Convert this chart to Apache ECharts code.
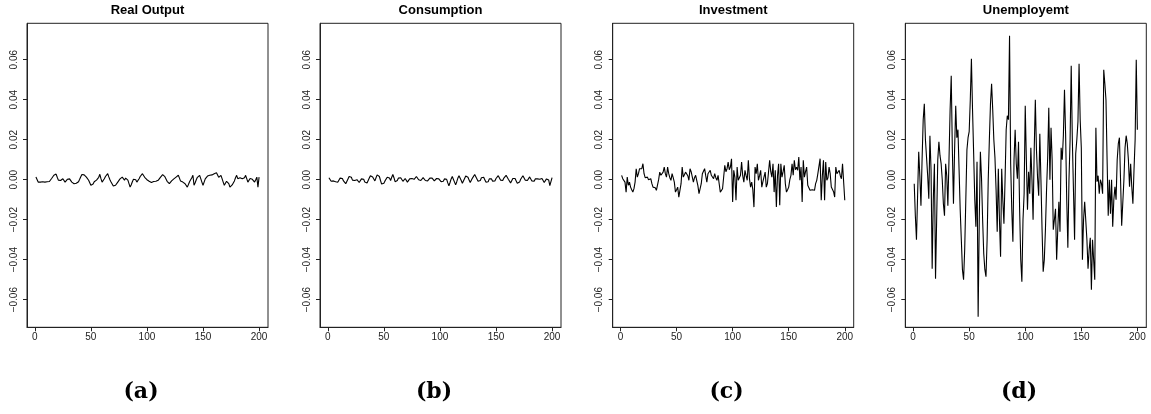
<!DOCTYPE html>
<html>
<head>
<meta charset="utf-8">
<script src="https://cdn.jsdelivr.net/npm/echarts@6/dist/echarts.min.js"></script>
<style>
  html, body { margin: 0; padding: 0; background: #fff; }
  #chart { width: 1151px; height: 414px; }
</style>
</head>
<body>
<div id="chart"></div>
<script>
// 面板标题与子图标号
var titles = ['Real Output', 'Consumption', 'Investment', 'Unemployemt'];
var subLabels = ['(a)', '(b)', '(c)', '(d)'];
// 刻度
var xTicks = [0, 50, 100, 150, 200];
var yTicks = [-0.06, -0.04, -0.02, 0, 0.02, 0.04, 0.06];

// 各序列 (t = 1..200)
var realOutput = [
  0.0013, 0.0005, -0.0012, -0.0008, -0.0012, -0.0005, -0.0010, -0.0006, -0.0012, -0.0008,
  -0.0010, -0.0004, -0.0009, -0.0002, 0.0006, 0.0015, 0.0022, 0.0030, 0.0028, 0.0012,
  -0.0002, -0.0012, -0.0004, 0.0003, 0.0005, -0.0004, -0.0012, -0.0008, 0.0002, 0.0008,
  0.0004, -0.0006, -0.0012, -0.0016, -0.0020, -0.0020, -0.0018, -0.0017, -0.0010, 0.0002,
  0.0015, 0.0026, 0.0030, 0.0024, 0.0016, 0.0013, 0.0005, -0.0003, -0.0015, -0.0028,
  -0.0037, -0.0022, -0.0010, -0.0003, -0.0002, 0.0000, 0.0012, 0.0027, 0.0005, -0.0012,
  -0.0006, 0.0005, 0.0016, 0.0026, 0.0030, 0.0014, 0.0000, -0.0012, -0.0022, -0.0032,
  -0.0037, -0.0028, -0.0020, -0.0012, -0.0004, 0.0004, 0.0010, 0.0013, 0.0004, -0.0003,
  0.0008, 0.0017, -0.0002, -0.0020, -0.0037, -0.0025, -0.0010, 0.0002, 0.0010, 0.0000,
  -0.0012, -0.0005, 0.0005, 0.0016, 0.0025, 0.0030, 0.0022, 0.0012, 0.0004, 0.0000,
  -0.0003, -0.0008, -0.0010, -0.0014, -0.0012, -0.0009, -0.0012, -0.0008, -0.0005, -0.0003,
  0.0004, 0.0012, 0.0020, 0.0025, 0.0027, 0.0015, 0.0004, -0.0008, -0.0016, -0.0020,
  -0.0012, -0.0006, -0.0003, 0.0004, 0.0009, 0.0013, 0.0018, 0.0022, 0.0008, -0.0007,
  -0.0010, -0.0012, -0.0012, -0.0020, -0.0030, -0.0037, -0.0024, -0.0010, -0.0003, 0.0010,
  0.0022, -0.0028, -0.0015, 0.0000, 0.0012, 0.0020, 0.0022, 0.0005, -0.0012, -0.0028,
  -0.0012, 0.0004, 0.0013, 0.0018, 0.0020, 0.0022, 0.0020, 0.0024, 0.0027, 0.0030,
  0.0028, 0.0035, 0.0025, 0.0012, 0.0010, 0.0022, 0.0005, -0.0012, -0.0028, -0.0018,
  -0.0008, -0.0003, -0.0020, -0.0037, -0.0032, -0.0026, -0.0020, -0.0006, 0.0010, 0.0022,
  0.0005, 0.0008, 0.0010, 0.0013, 0.0005, -0.0003, 0.0010, 0.0022, 0.0005, -0.0012,
  -0.0004, 0.0006, 0.0013, 0.0002, -0.0006, -0.0012, 0.0000, 0.0013, -0.0037, 0.0013
];

var consumption = [
  0.0010, 0.0002, -0.0008, -0.0012, -0.0006, 0.0000, -0.0010, -0.0004, -0.0012, -0.0002,
  0.0008, 0.0014, 0.0006, -0.0006, -0.0014, -0.0020, -0.0010, 0.0004, 0.0016, 0.0022,
  0.0012, -0.0002, -0.0008, -0.0004, 0.0006, 0.0000, -0.0010, -0.0014, -0.0006, 0.0004,
  0.0010, 0.0002, -0.0012, -0.0022, -0.0016, -0.0006, 0.0008, 0.0020, 0.0026, 0.0014,
  0.0004, -0.0006, 0.0010, 0.0024, 0.0030, 0.0016, -0.0004, -0.0022, -0.0030, -0.0018,
  -0.0006, 0.0004, 0.0012, 0.0020, 0.0008, -0.0004, 0.0012, 0.0026, 0.0010, -0.0010,
  -0.0016, -0.0004, 0.0008, 0.0016, 0.0010, 0.0000, -0.0008, -0.0002, 0.0006, -0.0004,
  -0.0012, -0.0006, 0.0004, 0.0012, 0.0006, -0.0004, 0.0002, 0.0010, 0.0016, 0.0008,
  0.0000, -0.0008, -0.0004, 0.0004, 0.0010, 0.0004, -0.0004, -0.0010, -0.0006, 0.0002,
  0.0008, 0.0014, 0.0008, 0.0000, -0.0006, -0.0002, 0.0006, 0.0012, 0.0004, -0.0004,
  -0.0010, -0.0018, -0.0008, 0.0004, 0.0012, 0.0002, -0.0016, -0.0030, -0.0014, 0.0004,
  0.0016, 0.0006, -0.0012, -0.0026, -0.0010, 0.0008, 0.0020, 0.0012, -0.0004, -0.0018,
  -0.0008, 0.0006, 0.0018, 0.0024, 0.0012, -0.0002, -0.0014, -0.0006, 0.0008, 0.0018,
  0.0026, 0.0016, 0.0004, -0.0008, -0.0016, -0.0004, 0.0010, 0.0020, 0.0012, 0.0000,
  -0.0012, -0.0022, -0.0010, 0.0004, 0.0012, 0.0004, -0.0008, -0.0016, -0.0006, 0.0006,
  0.0014, 0.0020, 0.0010, -0.0002, -0.0012, -0.0004, 0.0008, 0.0016, 0.0022, 0.0012,
  0.0002, -0.0008, -0.0016, -0.0006, 0.0006, 0.0014, 0.0006, -0.0006, -0.0018, -0.0026,
  -0.0012, 0.0002, 0.0012, 0.0020, 0.0010, -0.0002, -0.0010, -0.0004, 0.0006, 0.0014,
  0.0006, -0.0006, -0.0016, -0.0008, 0.0004, 0.0012, 0.0004, -0.0006, 0.0002, 0.0012,
  0.0006, -0.0004, -0.0014, -0.0006, 0.0004, 0.0010, -0.0002, -0.0030, -0.0038, 0.0010
];

var investment = [
  0.0022, 0.0005, 0.0010, -0.0012, -0.0062, 0.0013, -0.0028, -0.0012, -0.0037, -0.0050,
  -0.0062, -0.0045, -0.0012, 0.0055, 0.0013, 0.0030, 0.0055, 0.0050, 0.0055, 0.0080,
  0.0030, 0.0010, 0.0005, 0.0013, 0.0000, -0.0003, 0.0005, -0.0020, -0.0037, -0.0028,
  -0.0040, -0.0053, -0.0062, 0.0000, 0.0038, 0.0022, 0.0030, 0.0038, 0.0063, 0.0030,
  0.0013, 0.0063, 0.0030, 0.0010, -0.0003, 0.0030, 0.0010, -0.0012, -0.0062, -0.0050,
  -0.0037, -0.0087, -0.0087, -0.0020, 0.0063, 0.0013, 0.0025, 0.0038, 0.0047, 0.0020,
  -0.0003, 0.0055, 0.0040, 0.0030, -0.0012, 0.0010, 0.0022, 0.0013, -0.0030, -0.0070,
  -0.0078, -0.0020, 0.0030, 0.0022, 0.0055, 0.0020, -0.0012, 0.0030, 0.0040, 0.0047,
  0.0022, 0.0015, 0.0005, 0.0030, 0.0010, -0.0003, 0.0022, -0.0020, -0.0062, -0.0070,
  -0.0045, -0.0037, 0.0072, 0.0040, 0.0055, 0.0088, 0.0050, 0.0063, 0.0105, -0.0112,
  0.0047, 0.0013, -0.0103, 0.0063, -0.0003, 0.0010, 0.0022, 0.0088, 0.0020, -0.0012,
  0.0047, 0.0020, -0.0003, 0.0097, 0.0005, -0.0037, -0.0012, -0.0050, -0.0137, 0.0063,
  0.0030, 0.0080, -0.0003, 0.0020, 0.0047, -0.0037, -0.0010, -0.0003, 0.0038, -0.0037,
  -0.0020, -0.0028, 0.0097, 0.0040, 0.0013, 0.0080, -0.0062, 0.0047, -0.0137, 0.0020,
  0.0080, -0.0128, 0.0080, 0.0013, 0.0040, 0.0072, -0.0020, -0.0062, -0.0050, -0.0037,
  0.0000, 0.0022, 0.0080, 0.0022, 0.0097, 0.0050, 0.0063, 0.0047, 0.0113, -0.0003,
  0.0063, -0.0112, 0.0097, 0.0013, 0.0040, 0.0063, -0.0028, -0.0040, -0.0053, -0.0045,
  -0.0050, -0.0053, -0.0053, -0.0020, -0.0003, 0.0030, 0.0038, 0.0105, -0.0103, 0.0020,
  0.0097, -0.0103, 0.0088, -0.0003, 0.0010, 0.0063, 0.0030, -0.0037, -0.0045, -0.0060,
  -0.0087, 0.0063, 0.0030, 0.0022, 0.0047, 0.0020, 0.0005, 0.0080, 0.0088, -0.0103
];

var unemployment = [
  -0.0020, -0.0180, -0.0300, -0.0080, 0.0140, 0.0020, -0.0130, 0.0100, 0.0300, 0.0380,
  0.0200, 0.0110, 0.0020, -0.0095, 0.0220, 0.0050, -0.0445, -0.0100, 0.0080, -0.0495,
  -0.0200, 0.0100, 0.0190, 0.0120, 0.0080, 0.0000, -0.0120, -0.0180, 0.0080, 0.0020,
  -0.0130, 0.0100, 0.0350, 0.0520, 0.0150, -0.0120, 0.0150, 0.0370, 0.0210, 0.0250,
  0.0050, -0.0150, -0.0300, -0.0450, -0.0500, -0.0350, -0.0100, 0.0150, 0.0210, 0.0240,
  0.0400, 0.0605, 0.0350, 0.0130, -0.0100, -0.0235, 0.0090, -0.0685, -0.0200, 0.0140,
  0.0010, -0.0200, -0.0370, -0.0450, -0.0485, -0.0300, 0.0000, 0.0200, 0.0380, 0.0480,
  0.0350, 0.0200, 0.0110, -0.0050, -0.0260, 0.0055, -0.0200, -0.0385, 0.0055, -0.0100,
  -0.0220, 0.0000, 0.0250, 0.0320, 0.0300, 0.0720, 0.0080, -0.0150, -0.0310, 0.0100,
  0.0250, 0.0080, 0.0005, 0.0190, -0.0150, -0.0400, -0.0510, -0.0200, -0.0070, 0.0370,
  0.0100, -0.0150, 0.0040, -0.0070, 0.0160, 0.0000, -0.0200, 0.0150, 0.0400, 0.0150,
  0.0010, -0.0080, 0.0230, 0.0000, -0.0250, -0.0460, -0.0400, -0.0250, -0.0050, 0.0110,
  0.0360, 0.0000, 0.0260, 0.0100, -0.0250, -0.0200, -0.0145, -0.0400, -0.0250, -0.0110,
  -0.0260, 0.0160, 0.0100, 0.0220, 0.0450, 0.0230, -0.0100, -0.0340, 0.0000, 0.0200,
  0.0570, 0.0200, -0.0050, -0.0300, 0.0130, 0.0200, 0.0290, 0.0580, 0.0300, 0.0160,
  -0.0400, -0.0200, -0.0110, -0.0120, -0.0300, -0.0445, -0.0350, -0.0290, -0.0550, -0.0300,
  -0.0400, -0.0500, 0.0260, -0.0010, 0.0020, -0.0070, 0.0000, -0.0020, -0.0070, 0.0550,
  0.0480, 0.0400, 0.0100, -0.0180, 0.0000, -0.0170, 0.0000, -0.0235, -0.0100, -0.0035,
  -0.0100, 0.0100, 0.0180, 0.0210, 0.0000, -0.0230, -0.0220, 0.0000, 0.0160, 0.0220,
  0.0180, 0.0100, -0.0035, 0.0080, -0.0035, -0.0120, 0.0050, 0.0200, 0.0600, 0.0250
];

var seriesList = [realOutput, consumption, investment, unemployment];

(function () {
    var myChart = echarts.init(document.getElementById('chart'));

    // 面板位置
    var lefts = [27, 320, 612.7, 905.3];
    var plotW = 241, plotTop = 23.3, plotH = 304;
    var labelCx = [141, 434, 726.5, 1019];

    var grids = [], xAxes = [], yAxes = [], series = [], graphics = [];

    for (var i = 0; i < 4; i++) {
        grids.push({
            left: lefts[i], top: plotTop, width: plotW, height: plotH,
            show: true, borderColor: '#222', borderWidth: 1, backgroundColor: 'transparent'
        });
        xAxes.push({
            type: 'value', gridIndex: i, min: -6.96, max: 207.96,
            axisLine: { show: true, onZero: false, lineStyle: { color: '#222', width: 1 } },
            splitLine: { show: false },
            axisTick: { show: true, length: 4, customValues: xTicks, lineStyle: { color: '#222' } },
            axisLabel: {
                customValues: xTicks, margin: 5, color: '#222',
                fontFamily: 'Liberation Sans', fontSize: 10
            }
        });
        yAxes.push({
            type: 'value', gridIndex: i, min: -0.0738, max: 0.0782,
            axisLine: { show: true, onZero: false, lineStyle: { color: '#222', width: 1 } },
            splitLine: { show: false },
            axisTick: { show: true, length: 4, customValues: yTicks, lineStyle: { color: '#222' } },
            axisLabel: {
                customValues: yTicks, rotate: 90, margin: 8, color: '#222',
                fontFamily: 'Liberation Sans', fontSize: 10,
                formatter: function (v) {
                    return (v < 0 ? '\u2212' : '') + Math.abs(v).toFixed(2);
                }
            }
        });
        var pts = [];
        for (var k = 0; k < seriesList[i].length; k++) {
            pts.push([k + 1, seriesList[i][k]]);
        }
        series.push({
            type: 'line', xAxisIndex: i, yAxisIndex: i, data: pts,
            showSymbol: false, symbol: 'none',
            lineStyle: { color: '#000', width: 1.1 },
            animation: false
        });
        // 标题
        graphics.push({
            type: 'text', x: lefts[i] + plotW / 2, y: 10,
            style: {
                text: titles[i], fill: '#000', align: 'center', verticalAlign: 'middle',
                font: 'bold 13px "Liberation Sans"'
            }
        });
        // 子图标号
        graphics.push({
            type: 'text', x: labelCx[i], y: 392,
            style: {
                text: subLabels[i], fill: '#000', align: 'center', verticalAlign: 'middle',
                font: 'bold 22px "DejaVu Serif"'
            }
        });
    }

    var option = {
        animation: false,
        grid: grids,
        xAxis: xAxes,
        yAxis: yAxes,
        series: series,
        graphic: graphics
    };

    myChart.setOption(option);

    window.addEventListener('resize', function () {
        myChart.resize();
    });
})();
</script>
</body>
</html>
